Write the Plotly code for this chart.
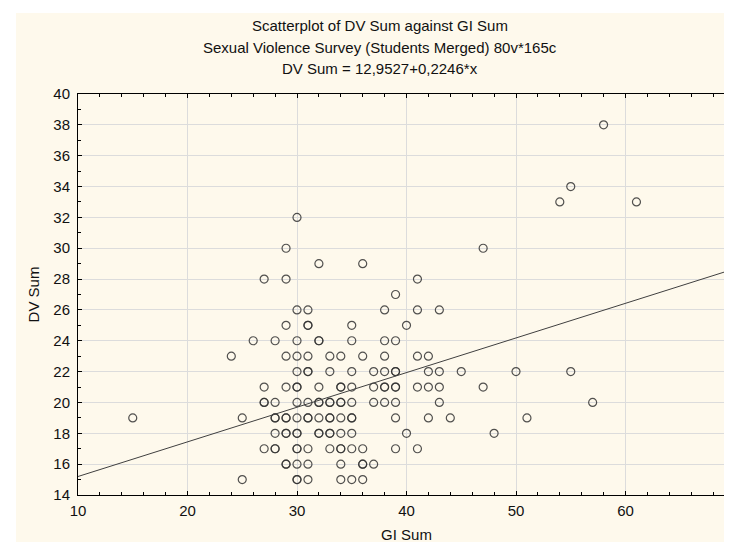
import plotly.graph_objects as go

# ---- data (GI Sum = x, DV Sum = y) ----
dv_15 = [25, 30, 30, 31, 34, 35, 36]
dv_16 = [29, 29, 30, 31, 34, 36, 36, 37]
dv_17 = [27, 28, 28, 30, 30, 31, 33, 34, 34, 35, 36, 39, 41]
dv_18 = [28, 29, 29, 30, 30, 32, 32, 33, 33, 34, 35, 40, 48]
dv_19 = [15, 25, 28, 28, 29, 29, 30, 31, 31, 32, 33, 33, 34, 35, 35, 39, 42, 44, 51]
dv_20 = [27, 27, 28, 30, 31, 32, 32, 33, 33, 34, 34, 35, 37, 38, 39, 43, 57]
dv_21 = [27, 29, 30, 30, 32, 34, 34, 35, 37, 38, 38, 39, 39, 41, 42, 43, 47]
dv_22 = [30, 31, 31, 33, 35, 37, 38, 39, 39, 42, 43, 45, 50, 55]
dv_23 = [24, 29, 30, 31, 33, 34, 36, 38, 41, 42]
dv_24 = [26, 28, 30, 32, 32, 35, 38, 39]
dv_25 = [29, 31, 31, 35, 40]
dv_26 = [30, 31, 38, 41, 43]
dv_27 = [39]
dv_28 = [27, 29, 41]
dv_29 = [32, 36]
dv_30 = [29, 47]
dv_32 = [30]
dv_33 = [54, 61]
dv_34 = [55]
dv_38 = [58]

rows = {15: dv_15, 16: dv_16, 17: dv_17, 18: dv_18, 19: dv_19, 20: dv_20,
        21: dv_21, 22: dv_22, 23: dv_23, 24: dv_24, 25: dv_25, 26: dv_26,
        27: dv_27, 28: dv_28, 29: dv_29, 30: dv_30, 32: dv_32, 33: dv_33,
        34: dv_34, 38: dv_38}

gi_sum = []
dv_sum = []
for dv, gis in rows.items():
    for g in gis:
        gi_sum.append(g)
        dv_sum.append(dv)

intercept = 12.9527
slope = 0.2246
x_range = [10, 70]
y_range = [14, 40]

title_lines = ["Scatterplot of DV Sum against GI Sum",
               "Sexual Violence Survey (Students Merged) 80v*165c",
               "DV Sum = 12,9527+0,2246*x"]

FONT = "Liberation Sans, Arial, sans-serif"
CREAM = "#FEF9EC"

# layout geometry (pixels)
W, H = 732, 542
L, R, T, B = 70, 5, 86, 55
PW, PH = W - L - R, H - T - B


def px_x(px):
    return (px - L) / PW


def px_y(py):
    return (H - B - py) / PH


fig = go.Figure()
fig.add_trace(go.Scatter(
    x=gi_sum, y=dv_sum, mode="markers",
    marker=dict(symbol="circle-open", size=8, color="rgba(50,50,50,0.85)",
                line=dict(width=1.2, color="rgba(50,50,50,0.85)")),
    showlegend=False, hoverinfo="x+y"))

fit_x = x_range
fit_y = [intercept + slope * v for v in fit_x]
fig.add_trace(go.Scatter(
    x=fit_x, y=fit_y, mode="lines",
    line=dict(color="#404040", width=1), showlegend=False, hoverinfo="skip"))

axis_common = dict(
    showline=True, linecolor="black", linewidth=1, mirror="ticks",
    ticks="inside", ticklen=4, tickcolor="black", tickwidth=1,
    showgrid=True, gridcolor="#dcdcdc", gridwidth=1, zeroline=False,
    tickfont=dict(family=FONT, size=15, color="#111111"),
    ticklabeloverflow="allow",
    automargin=False,
)

fig.update_xaxes(
    range=x_range, tick0=10, dtick=10,
    minor=dict(dtick=2, ticks="inside", ticklen=3, tickcolor="black", showgrid=False),
    title=dict(text="GI Sum", font=dict(family=FONT, size=15, color="#111111"), standoff=11),
    ticklabelstandoff=2,
    **axis_common)
fig.update_yaxes(
    range=y_range, tick0=14, dtick=2,
    minor=dict(dtick=1, ticks="inside", ticklen=3, tickcolor="black", showgrid=False),
    title=dict(text="DV Sum", font=dict(family=FONT, size=15, color="#111111"), standoff=10),
    ticklabelstandoff=4,
    **axis_common)

ys_px = [18, 39, 60]
for txt, py in zip(title_lines, ys_px):
    fig.add_annotation(
        text=txt, xref="paper", yref="paper",
        x=px_x(372), y=px_y(py),
        xanchor="center", yanchor="middle", showarrow=False,
        font=dict(family=FONT, size=15, color="#111111"))

# cream panel with thin white border on the left/top, as in the reference
fig.add_shape(type="rect", xref="paper", yref="paper", layer="below",
              x0=px_x(8), x1=px_x(W + 2), y0=px_y(H + 2), y1=px_y(5),
              fillcolor=CREAM, line=dict(width=0))

fig.update_layout(
    width=W, height=H,
    margin=dict(l=L, r=R, t=T, b=B),
    paper_bgcolor="white", plot_bgcolor="white",
    font=dict(family=FONT, size=15, color="#111111"),
)

fig.write_html("out.html")
